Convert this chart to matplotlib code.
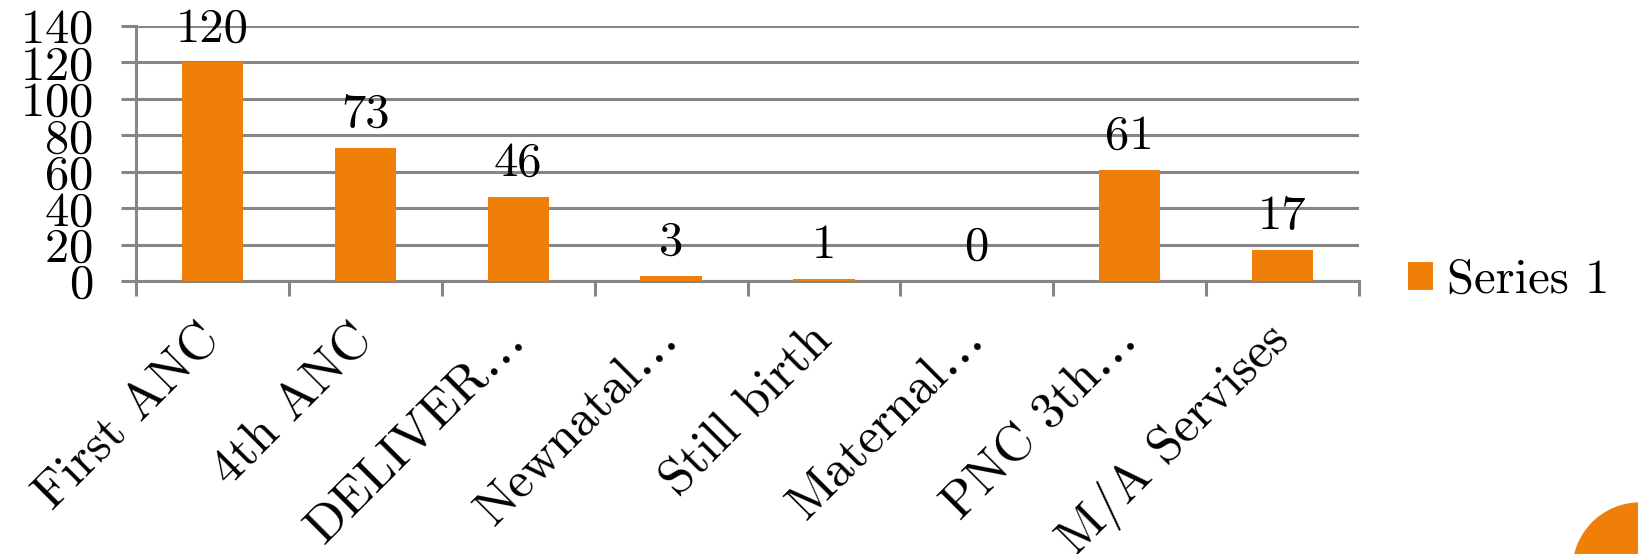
import matplotlib
matplotlib.use("Agg")
from matplotlib import pyplot as plt
from matplotlib.patches import Ellipse
import numpy as np

categories = ["First ANC", "4th ANC", "DELIVER\u2026", "Newnatal\u2026",
              "Still birth", "Maternal\u2026", "PNC 3th\u2026", "M/A Servises"]
values = [120, 73, 46, 3, 1, 0, 61, 17]
series_name = "Series 1"
yticks = [0, 20, 40, 60, 80, 100, 120, 140]

orange = "#F07F09"
gray = "#868686"
W, H = 1638, 554

plt.rcParams['font.family'] = ['cmr10', 'DejaVu Serif']
plt.rcParams['axes.formatter.use_mathtext'] = True
plt.rcParams['font.size'] = 35

fig = plt.figure(figsize=(W / 100, H / 100), dpi=100)
ax = fig.add_axes([136 / W, 1 - 281 / H, (1359 - 136) / W, (281 - 26) / H])

x = np.arange(len(categories))
bars = ax.bar(x, values, width=0.4, color=orange, label=series_name, zorder=3)
for xi, v in zip(x, values):
    ax.annotate(str(v), (xi, v), xytext=(0, 8), textcoords="offset points",
                ha="center", va="bottom", fontsize=35, zorder=4)

ax.set_xlim(-0.5, len(categories) - 0.5)
ax.set_ylim(0, 140)
ax.set_yticks(yticks)
ax.yaxis.grid(True, color=gray, linewidth=2.2, zorder=0)
ax.set_axisbelow(True)

ax.set_xticks(x)
ax.set_xticklabels(categories, rotation=45, ha="right", va="center",
                   rotation_mode="anchor", fontsize=37)
ax.set_xticks(np.arange(-0.5, len(categories)), minor=True)
ax.tick_params(axis="x", which="major", length=0, pad=37)
ax.tick_params(axis="x", which="minor", length=11, width=2.2, color=gray)
ax.tick_params(axis="y", length=11, width=2.2, color=gray, pad=20)

for s in ["top", "right"]:
    ax.spines[s].set_visible(False)
for s in ["left", "bottom"]:
    ax.spines[s].set_color(gray)
    ax.spines[s].set_linewidth(2.2)
ax.spines["left"].set_bounds(0, 140)

fig.legend(handles=[bars], labels=[series_name], loc="center left",
           bbox_to_anchor=(1408 / W, 1 - 281 / H), frameon=False,
           borderpad=0, borderaxespad=0, handlelength=0.52, handleheight=0.52,
           handletextpad=0.28, fontsize=35)

fig.patches.append(Ellipse((1640 / W, 1 - 570 / H), 2 * 67 / W, 2 * 67 / H,
                           transform=fig.transFigure, color=orange, zorder=0))

fig.savefig("out.png", dpi=100)
